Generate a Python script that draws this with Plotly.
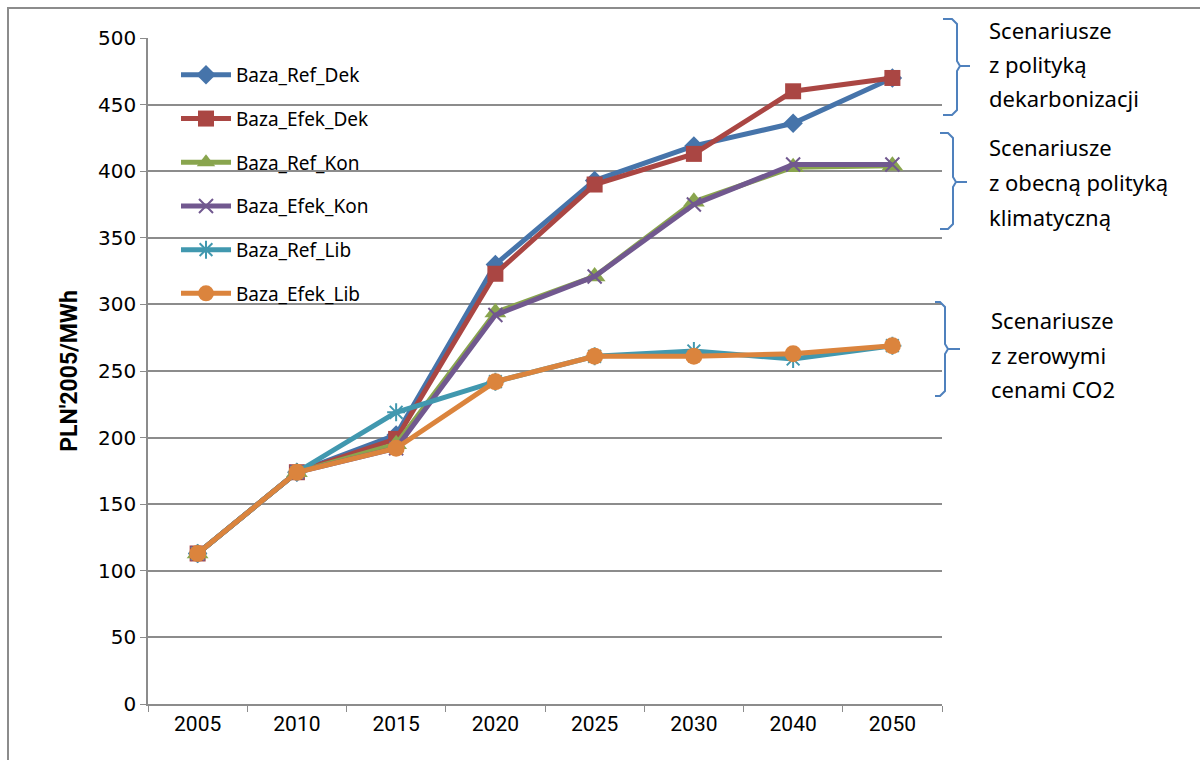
import plotly.graph_objects as go

years = ["2005", "2010", "2015", "2020", "2025", "2030", "2040", "2050"]
ref_dek = [113, 174, 202, 330, 393, 419, 436, 470]
efek_dek = [113, 174, 199, 323, 390, 413, 460, 470]
ref_kon = [113, 174, 195, 294, 321, 377, 403, 404]
efek_kon = [113, 174, 192, 292, 321, 375, 405, 405]
ref_lib = [113, 174, 219, 242, 261, 265, 259, 269]
efek_lib = [113, 174, 192, 242, 261, 261, 263, 269]

series = [
    ("Baza_Ref_Dek", ref_dek, "#4674AA", "diamond", 15),
    ("Baza_Efek_Dek", efek_dek, "#AA4643", "square", 16),
    ("Baza_Ref_Kon", ref_kon, "#89A54E", "triangle-up", 19),
    ("Baza_Efek_Kon", efek_kon, "#71588F", "x-thin", 14),
    ("Baza_Ref_Lib", ref_lib, "#4198AF", "asterisk", 15),
    ("Baza_Efek_Lib", efek_lib, "#DB843D", "circle", 17),
]

group_lines = [
    ["Scenariusze", "z polityką", "dekarbonizacji"],
    ["Scenariusze", "z obecną polityką", "klimatyczną"],
    ["Scenariusze", "z zerowymi", "cenami CO2"],
]

W, H = 1200, 760
L, R, T, B = 148, 258, 38, 56
PW, PH = W - L - R, H - T - B


def px(x):
    return (x - L) / PW


def py(y):
    return (H - B - y) / PH


fig = go.Figure()
for i, (name, vals, col, sym, sz) in enumerate(series):
    mline = dict(width=2, color=col) if sym in ("x-thin", "asterisk") else dict(width=0)
    fig.add_trace(go.Scatter(
        x=years, y=vals, name=name, mode="lines+markers",
        line=dict(color=col, width=5),
        marker=dict(symbol=sym, size=sz, color=col, line=mline),
        legendgroup=f"g{i}",
    ))

shapes = []
# outer border
shapes.append(dict(type="rect", xref="paper", yref="paper",
                   x0=px(8), x1=px(1210), y0=py(775), y1=py(8),
                   line=dict(color="#8C8C8C", width=2), layer="below"))


def brace(xt, xs, xp, yt, ym, yb):
    r = 5
    pts = [
        (xt, yt), (xs - r, yt), (xs, yt + r), (xs, ym - r), (xs + r * 0.6, ym), (xp, ym),
        (xs + r * 0.6, ym), (xs, ym + r), (xs, yb - r), (xs - r, yb), (xt, yb)
    ]
    d = "M " + " L ".join(f"{px(a):.5f},{py(b):.5f}" for a, b in pts)
    return dict(type="path", xref="paper", yref="paper", path=d,
                line=dict(color="#4F81BD", width=2))


shapes.append(brace(943, 957, 970, 19, 66, 115))
shapes.append(brace(940, 953, 967, 133, 182, 229))
shapes.append(brace(935, 945, 960, 302, 349, 396))

annotations = []
block_pos = [(987, [30, 64, 98]), (987, [147, 182, 217]), (989, [320, 355, 389])]
for lines, (xx, ys) in zip(group_lines, block_pos):
    for txt, yy in zip(lines, ys):
        annotations.append(dict(xref="paper", yref="paper", x=px(xx), y=py(yy),
                                xanchor="left", yanchor="middle", align="left",
                                text=txt, showarrow=False,
                                font=dict(family="Noto Sans", size=22, color="#000")))

fig.update_layout(
    width=W, height=H,
    margin=dict(l=L, r=R, t=T, b=B),
    paper_bgcolor="white", plot_bgcolor="white",
    font=dict(family="Noto Sans", color="#000"),
    showlegend=True,
    legend=dict(x=px(176), y=py(56), xanchor="left", yanchor="top",
                bgcolor="rgba(0,0,0,0)", tracegroupgap=16, itemwidth=50,
                font=dict(family="Noto Sans", size=19, color="#000")),
    xaxis=dict(type="category", tickson="boundaries", ticks="outside", ticklen=6,
               tickcolor="#8C8C8C", showline=True, linecolor="#8C8C8C", linewidth=1.5,
               showgrid=False, tickfont=dict(family="Roboto", size=21),
               range=[-0.5, 7.5]),
    yaxis=dict(range=[0, 500], dtick=50, ticks="outside", ticklen=6, tickcolor="#8C8C8C",
               showline=True, linecolor="#8C8C8C", linewidth=1.5,
               showgrid=True, gridcolor="#8C8C8C", gridwidth=1.5,
               zeroline=False, tickfont=dict(family="DejaVu Sans", size=20),
               title=dict(text="<b>PLN'2005/MWh</b>", standoff=14,
                          font=dict(family="Roboto", size=23))),
    shapes=shapes, annotations=annotations,
)

fig.write_html("out.html")
